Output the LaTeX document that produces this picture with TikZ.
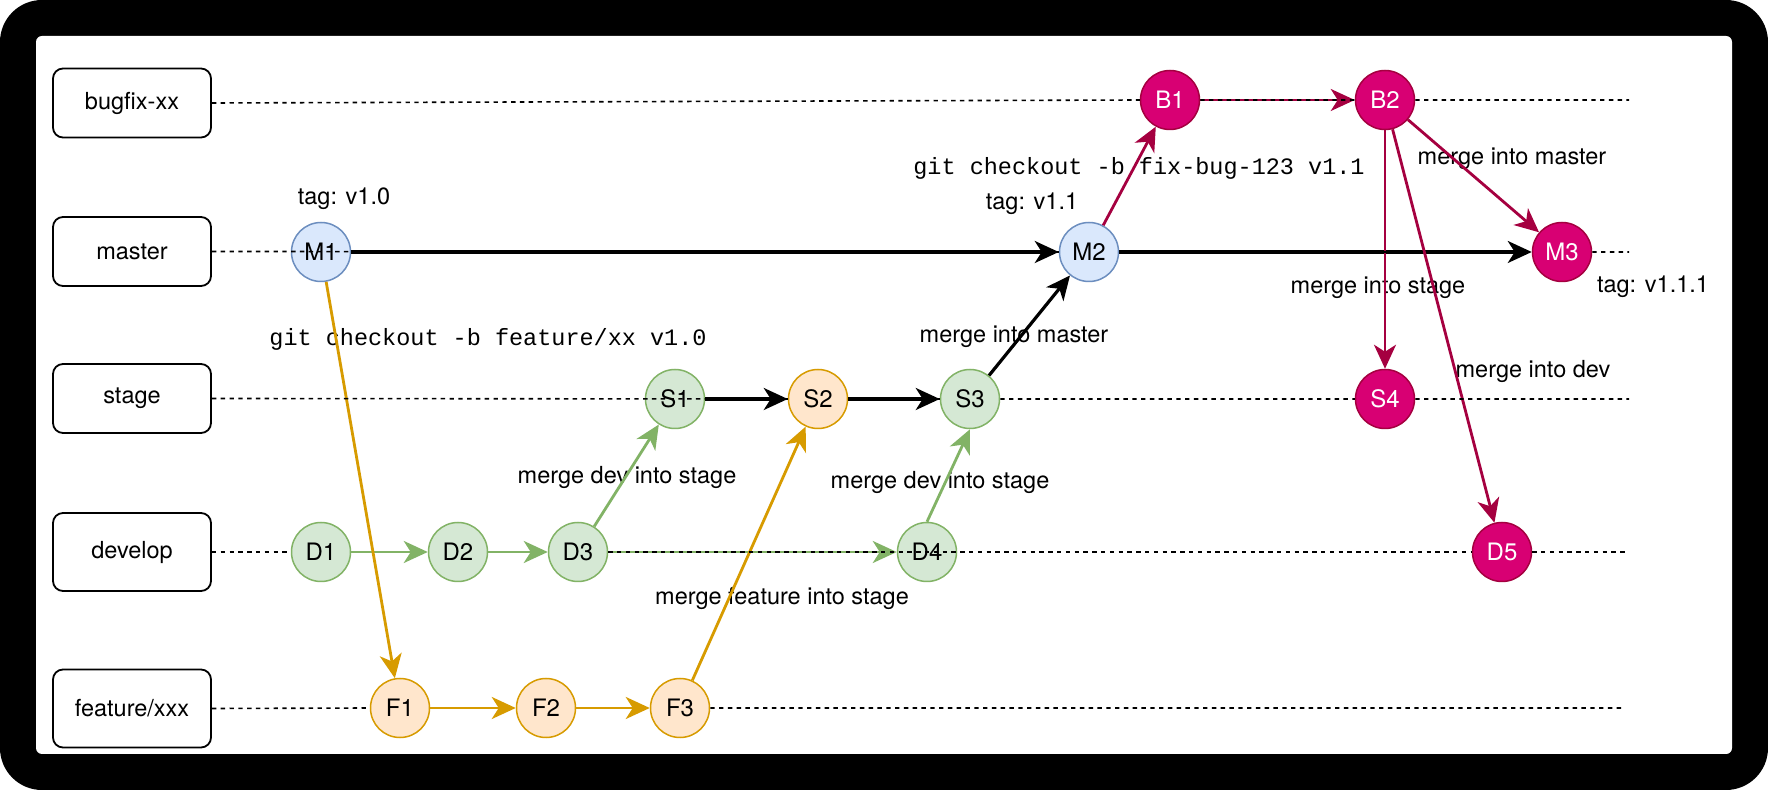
\documentclass[tikz,border=0pt]{standalone}
\usepackage{fontspec}
\setmainfont{TeX Gyre Heros}
\setmonofont{Liberation Mono}
\usetikzlibrary{arrows.meta}

\definecolor{mfill}{HTML}{DAE8FC}
\definecolor{mline}{HTML}{6C8EBF}
\definecolor{dfill}{HTML}{D5E8D4}
\definecolor{dline}{HTML}{82B366}
\definecolor{ffill}{HTML}{FFE6CC}
\definecolor{fline}{HTML}{D79B00}
\definecolor{bfill}{HTML}{D80073}
\definecolor{bline}{HTML}{A50040}

\tikzset{
commit/.style={circle,minimum size=29.5pt,inner sep=0pt,line width=0.75pt,font=\fontsize{12}{14}\selectfont},
mc/.style={commit,draw=mline,fill=mfill},
dc/.style={commit,draw=dline,fill=dfill},
fc/.style={commit,draw=fline,fill=ffill},
bc/.style={commit,draw=bline,fill=bfill,text=white},
branch/.style={draw,rounded corners=5pt,minimum width=79pt,minimum height=34.5pt,line width=0.9pt,font=\fontsize{11.75}{14}\selectfont},
note/.style={inner sep=0pt,font=\fontsize{11.75}{14}\selectfont},
cmd/.style={inner sep=0pt,font=\ttfamily\fontsize{11.75}{14}\selectfont},
lane/.style={line width=0.8pt,dash pattern=on 2.2pt off 2.2pt},
gitarrow/.style={-{Stealth[length=12pt,width=11pt,inset=3.5pt]}},
mpush/.style={gitarrow,line width=1.6pt},
dpush/.style={gitarrow,line width=1.4pt,draw=dline},
fpush/.style={gitarrow,line width=1.4pt,draw=fline},
bpush/.style={gitarrow,line width=1.4pt,draw=bline}
}

\begin{document}
\begin{tikzpicture}[x=0.5pt,y=-0.5pt]
\useasboundingbox (0,0) rectangle (1768,790);
\fill[white] (0,0) rectangle (1768,790);
\fill[black,rounded corners=21pt] (0,0) rectangle (1768,790);
\fill[white,rounded corners=3pt] (36,36) rectangle (1732,754);

\node[note] (tagvA) at (344,199) {tag: v1.0};
\node[note] (tagvB) at (1032,204) {tag: v1.1};
\node[note] (tagvC) at (1653,287) {tag: v1.1.1};
\node[cmd] (cofeat) at (488,339) {git checkout -b feature/xx v1.0};
\node[cmd] (cofix) at (1139,168) {git checkout -b fix-bug-123 v1.1};
\node[note] (mgmasterA) at (1014,337) {merge into master};
\node[note] (mgmasterB) at (1512,159) {merge into master};
\node[note] (mgstage) at (1378,288) {merge into stage};
\node[note] (mgdev) at (1533,372) {merge into dev};
\node[note] (mgdevA) at (627,477) {merge dev into stage};
\node[note] (mgdevB) at (940,482) {merge dev into stage};
\node[note] (mgfeat) at (782,598) {merge feature into stage};

\node[branch] (bugfix) at (132,103) {bugfix-xx};
\node[branch] (master) at (132,251.5) {master};
\node[branch] (stage) at (132,398.5) {stage};
\node[branch,minimum height=39pt] (develop) at (132,552) {develop};
\node[branch,minimum height=39pt] (feature) at (132,708.5) {feature/xxx};

\foreach \n/\x/\t in {m1/321/M1,m2/1089/M2}
  \node[mc] (\n) at (\x,252) {\t};
\node[bc] (m3) at (1562,252) {M3};
\foreach \n/\x/\t in {b1/1170/B1,b2/1385/B2}
  \node[bc] (\n) at (\x,100) {\t};
\foreach \n/\x/\t in {s1/675/S1,s3/970/S3}
  \node[dc] (\n) at (\x,399) {\t};
\node[fc] (s2) at (818,399) {S2};
\node[bc] (s4) at (1385,399) {S4};
\foreach \n/\x/\t in {d1/321/D1,d2/458/D2,d3/578/D3,d4/927/D4}
  \node[dc] (\n) at (\x,552) {\t};
\node[bc] (d5) at (1502,552) {D5};
\foreach \n/\x/\t in {f1/400/F1,f2/546/F2,f3/680/F3}
  \node[fc] (\n) at (\x,708) {\t};

\draw[mpush] (m1) -- (m2);
\draw[mpush] (m2) -- (m3);
\draw[mpush] (s1) -- (s2);
\draw[mpush] (s2) -- (s3);
\draw[mpush] (s3) -- (m2);
\foreach \a/\b in {d1/d2,d2/d3,d3/d4,d3/s1}
  \draw[dpush] (\a) -- (\b);
\draw[dpush] (d4.north) -- (s3.south);
\foreach \a/\b in {m1/f1,f1/f2,f2/f3,f3/s2}
  \draw[fpush] (\a) -- (\b);
\foreach \a/\b in {m2/b1,b1/b2,b2/m3,b2/s4,b2/d5}
  \draw[bpush] (\a) -- (\b);

\coordinate (bend) at (1629,100);
\coordinate (mend) at (1629,252);
\coordinate (send) at (1629,399);
\coordinate (dend) at (1629,552);
\coordinate (fend) at (1624,708);
\draw[lane] (bugfix.east) -- (b1.west) (b1.east) -- (b2.west) (b2.east) -- (bend);
\draw[lane] (master.east) -- (m2.west) (m2.east) -- (m3.west) (m3.east) -- (mend);
\draw[lane] (stage.east) -- (s2.west) (s2.east) -- (s3.west) (s3.east) -- (s4.west) (s4.east) -- (send);
\draw[lane] (develop.east) -- (d1.west) (d3.east) -- (d5.west) (d5.east) -- (dend);
\draw[lane] (feature.east) -- (f1.west) (f3.east) -- (fend);
\end{tikzpicture}
\end{document}
